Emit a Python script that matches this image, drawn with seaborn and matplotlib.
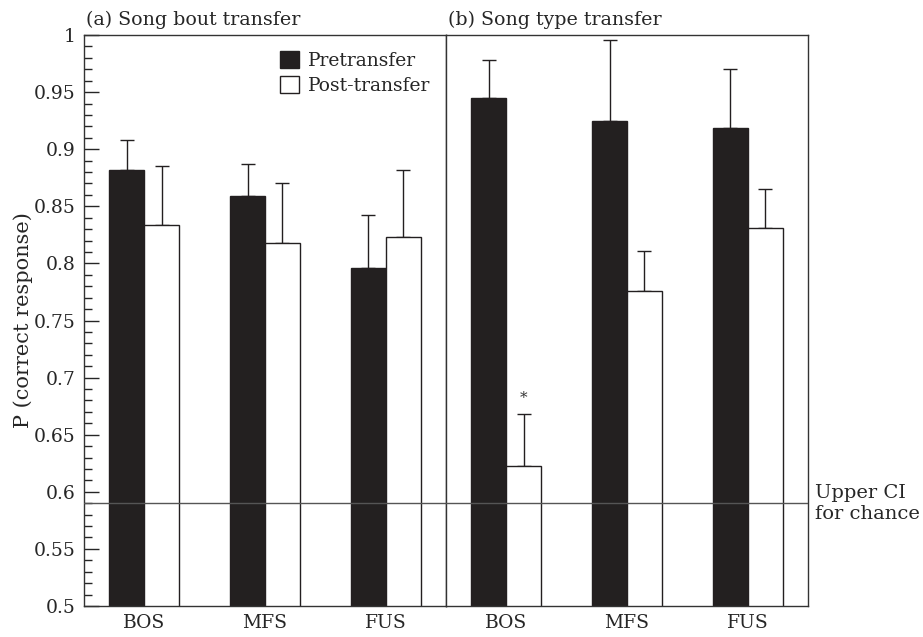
import numpy as np
import pandas as pd
import seaborn as sns
from matplotlib import pyplot as plt
from matplotlib.patches import Patch
from matplotlib.ticker import MultipleLocator, FuncFormatter

categories = ["BOS", "MFS", "FUS"]
phases = ["Pretransfer", "Post-transfer"]

# (a) song bout transfer
bout_pre = [0.882, 0.859, 0.796]
bout_pre_err = [0.026, 0.028, 0.046]
bout_post = [0.834, 0.818, 0.823]
bout_post_err = [0.051, 0.052, 0.059]

# (b) song type transfer
type_pre = [0.945, 0.925, 0.919]
type_pre_err = [0.033, 0.071, 0.051]
type_post = [0.623, 0.776, 0.831]
type_post_err = [0.045, 0.035, 0.034]

chance_ci = 0.59
titles = ["(a) Song bout transfer", "(b) Song type transfer"]

sns.set_style("ticks")
plt.rcParams["font.family"] = ["DejaVu Serif"]

DARK = "#231f20"
W, H = 923, 637


def make_frame(pre, post):
    return pd.DataFrame({
        "stimulus": categories * 2,
        "phase": [phases[0]] * 3 + [phases[1]] * 3,
        "p": pre + post,
    })


fig = plt.figure(figsize=(W / 100, H / 100), dpi=100)
bottom, height = 1 - 606 / H, 571 / H
ax1 = fig.add_axes([84 / W, bottom, 362 / W, height])
ax2 = fig.add_axes([446 / W, bottom, 362 / W, height], sharey=ax1)

panels = [
    (ax1, bout_pre, bout_post, bout_pre_err + bout_post_err),
    (ax2, type_pre, type_post, type_pre_err + type_post_err),
]

for ax, pre, post, errs in panels:
    sns.barplot(
        make_frame(pre, post), x="stimulus", y="p", hue="phase",
        order=categories, hue_order=phases,
        palette={phases[0]: DARK, phases[1]: "white"},
        width=0.58, gap=0, errorbar=None, legend=False,
        edgecolor=DARK, linewidth=1.0, ax=ax, zorder=2)

    bars = list(ax.patches)
    xs = [b.get_x() + b.get_width() / 2 for b in bars]
    ys = [b.get_height() for b in bars]
    ax.errorbar(xs, ys, yerr=[np.zeros(len(errs)), errs], fmt="none",
                ecolor=DARK, elinewidth=1.0, capsize=4.7, capthick=1.0,
                zorder=1)

    ax.axhline(chance_ci, color="#555555", lw=1.0, zorder=3)
    ax.set_xlim(-0.5, 2.5)
    ax.set_xlabel("")
    ax.set_ylabel("")
    ax.tick_params(axis="x", length=0, pad=6, labelsize=13.5)
    for s in ax.spines.values():
        s.set_visible(True)
        s.set_linewidth(1.0)
        s.set_color("#333333")

ax1.set_ylim(0.5, 1.0)
ax1.yaxis.set_major_locator(MultipleLocator(0.05))
ax1.yaxis.set_minor_locator(MultipleLocator(0.01))
ax1.yaxis.set_major_formatter(FuncFormatter(lambda v, _: f"{v:g}"))
ax1.tick_params(axis="y", which="major", direction="in", length=11,
                width=1.0, labelsize=13.5, pad=6)
ax1.tick_params(axis="y", which="minor", direction="in", length=6, width=1.0)
ax2.tick_params(axis="y", which="both", left=False, labelleft=False)

ax1.set_ylabel("P (correct response)", fontsize=15)
ax1.yaxis.set_label_coords(-0.14, 0.5)

ax1.legend(
    handles=[Patch(facecolor=DARK, edgecolor=DARK, label=phases[0]),
             Patch(facecolor="white", edgecolor=DARK, label=phases[1])],
    loc="upper right", bbox_to_anchor=(0.992, 0.995), frameon=False,
    fontsize=13.5, handlelength=1.0, handleheight=1.0, handletextpad=0.45,
    labelspacing=0.35, borderaxespad=0.3)

# significance marker over BOS post-transfer (song type)
star_bar = ax2.patches[3]
ax2.text(star_bar.get_x() + star_bar.get_width() / 2,
         type_post[0] + type_post_err[0] + 0.008, "*",
         ha="center", va="bottom", fontsize=11, color="#333333")

fig.text(86 / W, 1 - 25 / H, titles[0], fontsize=13.7, va="baseline")
fig.text(448 / W, 1 - 25 / H, titles[1], fontsize=13.7, va="baseline")

ax2.annotate("Upper CI\nfor chance", xy=(1.0, chance_ci),
             xycoords=("axes fraction", "data"), xytext=(5, 0),
             textcoords="offset points", ha="left", va="center",
             fontsize=14, linespacing=1.2, annotation_clip=False)

fig.savefig("out.png", dpi=100)
